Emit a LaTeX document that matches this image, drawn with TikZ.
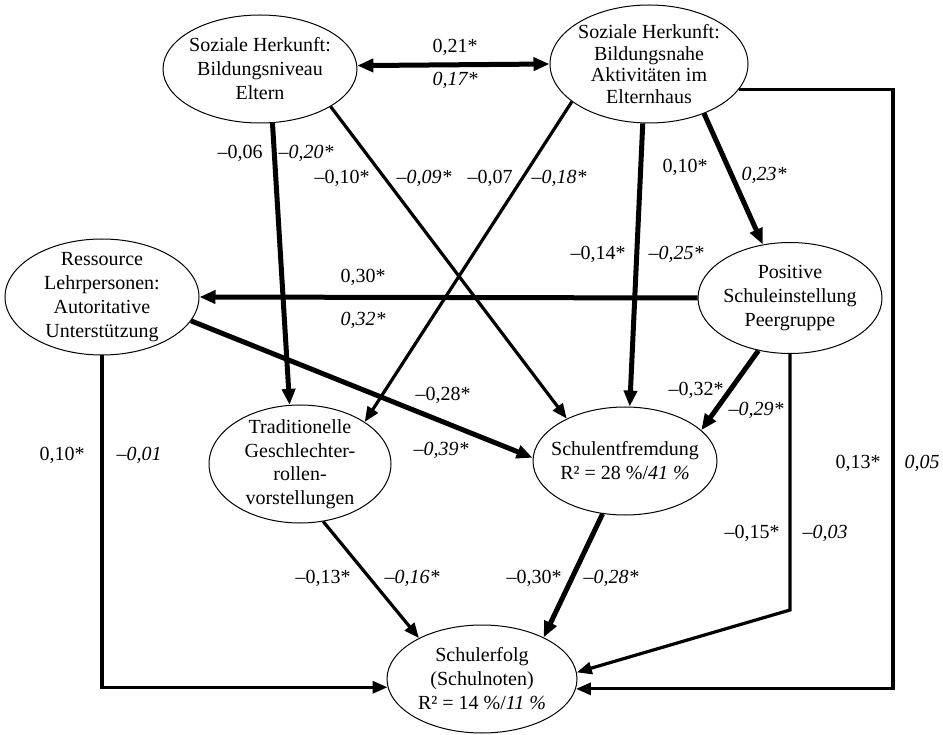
\documentclass[tikz,border=0pt]{standalone}
\usepackage{fontspec}
\setmainfont{Liberation Serif}
\usetikzlibrary{shapes.geometric,arrows.meta}
\begin{document}
\begin{tikzpicture}[x=1pt,y=-1pt,
  lat/.style={ellipse,draw,line width=1pt,inner sep=-10pt,align=center,font=\fontsize{20}{24}\selectfont},
  lbl/.style={inner sep=0pt,font=\fontsize{20}{24}\selectfont},
  thk/.style={line width=5pt,-{Triangle[length=16pt,width=13pt]}},
  med/.style={line width=3.2pt,-{Triangle[length=15pt,width=12pt]}},
  dbl/.style={line width=5pt,{Triangle[length=16pt,width=13pt]}-{Triangle[length=16pt,width=13pt]}}
]
\useasboundingbox (0,0) rectangle (943,735);

% latent variables
\node[lat,minimum width=194pt,minimum height=108pt] (A) at (260,69) {Soziale Herkunft:\\Bildungsniveau\\Eltern};
\node[lat,minimum width=198pt,minimum height=118pt,font=\fontsize{20}{21.7}\selectfont] (B) at (649,64) {Soziale Herkunft:\\Bildungsnahe\\Aktivitäten im\\Elternhaus};
\node[lat,minimum width=194pt,minimum height=116pt] (C) at (102,297) {Ressource\\Lehrpersonen:\\Autoritative\\Unterstützung};
\node[lat,minimum width=184pt,minimum height=111pt] (D) at (790,298) {Positive\\Schuleinstellung\\Peergruppe};
\node[lat,minimum width=182pt,minimum height=118pt,font=\fontsize{20}{23.5}\selectfont] (E) at (300,464) {Traditionelle\\Geschlechter-\\rollen-\\vorstellungen};
\node[lat,minimum width=184pt,minimum height=108pt] (F) at (625,461) {Schulentfremdung\\R² = 28 \%/\textit{41 \%}};
\node[lat,minimum width=190pt,minimum height=108pt] (G) at (482,679) {Schulerfolg\\(Schulnoten)\\R² = 14 \%/\textit{11 \%}};

% helper coordinates
\coordinate (rx) at (893,0);
\coordinate (dk) at (790,610);
\coordinate (bs) at (B.-16);
\coordinate (ge) at (G.-6);

% connectors
\draw[dbl] (A.2) -- (B.180);
\draw[thk] (A.-77) -- (E.100);
\draw[med] (A.-28) -- (F.144);
\draw[med] (B.206) -- (E.33);
\draw[thk] (B.264) -- (F.85);
\draw[thk] (B.-42) -- (D.117);
\draw[med] (bs) -- (bs -| rx) -- (ge -| rx) -- (ge);
\draw[thk] (D.west) -- (C.east);
\draw[thk] (C.-15) -- (F.178);
\draw[thk] (D.239) -- (F.22);
\draw[med] (D.south) -- (dk) -- (G.4);
\draw[med] (C.south) |- (G.185);
\draw[med] (E.-68) -- (G.147);
\draw[thk] (F.247) -- (G.34);

% labels
\node[lbl] (l1) at (455,47) {0,21*};
\node[lbl] (l2) at (455,80) {\textit{0,17*}};
\node[lbl] (l3) at (240,153) {–0,06};
\node[lbl] (l4) at (306,153) {\textit{–0,20*}};
\node[lbl] (l5) at (342,178) {–0,10*};
\node[lbl] (l6) at (424,178) {\textit{–0,09*}};
\node[lbl] (l7) at (490,178) {–0,07};
\node[lbl] (l8) at (559,178) {\textit{–0,18*}};
\node[lbl] (l9) at (685,167) {0,10*};
\node[lbl] (l10) at (764,175) {\textit{0,23*}};
\node[lbl] (l11) at (598,254) {–0,14*};
\node[lbl] (l12) at (676,254) {\textit{–0,25*}};
\node[lbl] (l13) at (363,277) {0,30*};
\node[lbl] (l14) at (363,320) {\textit{0,32*}};
\node[lbl] (l15) at (443,395) {–0,28*};
\node[lbl] (l16) at (441,450) {\textit{–0,39*}};
\node[lbl] (l17) at (62,455) {0,10*};
\node[lbl] (l18) at (139,455) {\textit{–0,01}};
\node[lbl] (l19) at (696,390) {–0,32*};
\node[lbl] (l20) at (756,410) {\textit{–0,29*}};
\node[lbl] (l21) at (858,463) {0,13*};
\node[lbl] (l22) at (922,463) {\textit{0,05}};
\node[lbl] (l23) at (752,533) {–0,15*};
\node[lbl] (l24) at (825,533) {\textit{–0,03}};
\node[lbl] (l25) at (323,578) {–0,13*};
\node[lbl] (l26) at (412,578) {\textit{–0,16*}};
\node[lbl] (l27) at (534,578) {–0,30*};
\node[lbl] (l28) at (611,578) {\textit{–0,28*}};
\end{tikzpicture}
\end{document}
